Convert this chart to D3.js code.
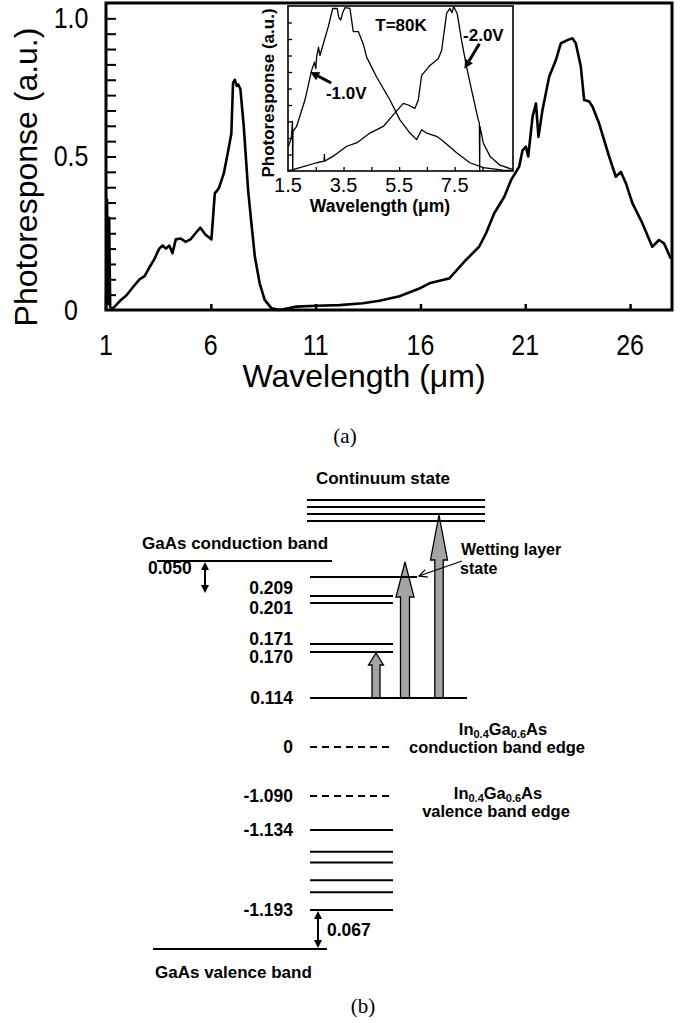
<!DOCTYPE html>
<html>
<head>
<meta charset="utf-8">
<script src="https://cdn.jsdelivr.net/npm/d3@7"></script>
<style>
  body { margin: 0; background: #fff; }
  svg { display: block; }
  text { font-family: 'Liberation Sans', Arial, sans-serif; fill: #000; }
  .bold { font-weight: bold; }
</style>
</head>
<body>
<svg id="fig" width="690" height="1023"></svg>
<script>
// (a) main spectrum: [wavelength um, photoresponse a.u.]
const mainSpectrum = [
  [1.0, 0.0], [1.05, 0.36], [1.1, 0.02], [1.15, 0.3], [1.2, 0.01], [1.33, 0.005],
  [1.67, 0.03], [1.98, 0.048], [2.29, 0.075], [2.6, 0.1], [2.84, 0.11], [3.08, 0.14],
  [3.3, 0.165], [3.54, 0.2], [3.7, 0.21], [3.86, 0.2], [4.02, 0.21], [4.17, 0.185],
  [4.33, 0.23], [4.56, 0.233], [4.8, 0.222], [5.03, 0.23], [5.27, 0.25], [5.5, 0.268],
  [5.75, 0.245], [6.03, 0.23], [6.19, 0.38], [6.38, 0.396], [6.62, 0.445], [6.86, 0.53],
  [6.98, 0.575], [7.06, 0.74], [7.14, 0.75], [7.24, 0.73], [7.3, 0.735], [7.41, 0.72],
  [7.57, 0.6], [7.78, 0.39], [7.94, 0.28], [8.1, 0.174], [8.33, 0.087], [8.57, 0.033],
  [8.89, 0.006], [9.29, 0.0], [10.08, 0.011], [11.03, 0.014], [12.14, 0.016], [13.25, 0.022],
  [14.05, 0.03], [15.0, 0.045], [15.95, 0.07], [16.43, 0.087], [17.06, 0.098], [17.38, 0.103],
  [18.17, 0.163], [18.8, 0.206], [19.13, 0.25], [19.52, 0.315], [20.0, 0.369], [20.32, 0.423],
  [20.71, 0.467], [20.87, 0.52], [21.03, 0.532], [21.14, 0.5], [21.35, 0.63], [21.51, 0.673],
  [21.63, 0.564], [21.82, 0.651], [22.14, 0.76], [22.46, 0.814], [22.7, 0.869], [23.01, 0.879],
  [23.25, 0.885], [23.41, 0.869], [23.65, 0.793], [23.81, 0.684], [24.05, 0.679], [24.21, 0.662],
  [24.52, 0.608], [25.0, 0.5], [25.32, 0.434], [25.56, 0.45], [25.8, 0.413], [26.11, 0.348],
  [26.59, 0.282], [27.06, 0.206], [27.38, 0.228], [27.62, 0.217], [27.94, 0.168]
];
const xTickValues = [1, 6, 11, 16, 21, 26];
const yTickValues = [0, 0.5, 1.0];
const yTickLabels = ['0', '0.5', '1.0'];

// inset spectra at T=80K
const insetMinus1V = [
  [1.51, 0.147], [1.62, 0.2], [1.66, 0.3], [1.67, 0.0], [1.68, 0.24], [1.81, 0.27],
  [2.11, 0.43], [2.35, 0.61], [2.45, 0.66], [2.5, 0.62], [2.53, 0.69], [2.6, 0.75],
  [2.65, 0.7], [2.77, 0.77], [2.95, 0.875], [3.11, 0.985], [3.27, 0.985], [3.33, 0.93],
  [3.4, 0.915], [3.47, 0.96], [3.55, 0.99], [3.73, 0.985], [3.85, 0.845], [4.03, 0.845],
  [4.21, 0.77], [4.33, 0.69], [4.69, 0.57], [5.17, 0.43], [5.53, 0.31], [5.89, 0.23],
  [6.13, 0.19], [6.31, 0.25], [6.49, 0.23], [6.85, 0.21], [7.09, 0.18], [7.57, 0.11],
  [8.05, 0.05], [8.53, 0.02], [9.23, 0.005], [9.6, 0.003]
];
const insetMinus2V = [
  [1.5, 0.0], [1.93, 0.02], [2.53, 0.05], [2.8, 0.06], [2.81, 0.1], [2.82, 0.06],
  [3.13, 0.09], [3.61, 0.15], [3.97, 0.17], [4.45, 0.23], [4.93, 0.27], [5.29, 0.34],
  [5.65, 0.41], [5.83, 0.4], [6.07, 0.38], [6.19, 0.43], [6.31, 0.58], [6.61, 0.64],
  [6.91, 0.68], [7.03, 0.73], [7.21, 0.955], [7.33, 0.985], [7.4, 0.96], [7.47, 0.995],
  [7.59, 0.955], [7.75, 0.79], [7.93, 0.63], [8.11, 0.49], [8.35, 0.31], [8.39, 0.29],
  [8.4, 0.0], [8.41, 0.27], [8.53, 0.17], [8.77, 0.09], [9.13, 0.035], [9.49, 0.015], [9.6, 0.01]
];
const insetTickValues = [1.5, 3.5, 5.5, 7.5];
const insetNotes = [
  { label: '-1.0V', wl: 2.3, pr: 0.6 },
  { label: '-2.0V', wl: 7.85, pr: 0.62 }
];

// (b) energy levels, eV
const continuumLevels = [0.32, 0.31, 0.30, 0.29];
const gaasCB = 0.264;
const wettingLevel = 0.214;
const confinedLevels = [0.209, 0.201, 0.171, 0.170, 0.114];
const confinedLabels = ['0.209', '0.201', '0.171', '0.170', '0.114'];
const edgeLevels = [0, -1.090];
const edgeLabels = ['0', '-1.090'];
const holeLevels = [-1.134, -1.150, -1.158, -1.171, -1.180, -1.193];
const holeLabels = ['-1.134', '', '', '', '', '-1.193'];
const gaasVB = -1.260;
const transitions = [[0.114, 0.170], [0.114, gaasCB], [0.114, 0.30]];

const svg = d3.select('#fig');

// ---------- (a) ----------
const box = { left: 106, right: 672, top: 3, bottom: 310 };

const x = d3.scaleLinear().domain([1, 28]).range([box.left, box.right]);
const y = d3.scaleLinear().domain([0, 1]).range([box.bottom, box.top]);

const xAxis = d3.axisBottom(x).tickValues(xTickValues.slice(1)).tickSize(-6).tickFormat('');
const yAxis = d3.axisLeft(y).tickValues(d3.range(1, 20).map(i => i * 0.05)).tickSize(-10).tickFormat('');

svg.append('g')
  .attr('transform', 'translate(0,' + box.bottom + ')')
  .call(xAxis)
  .call(g => g.select('.domain').remove())
  .selectAll('line').attr('stroke-width', 2.5);

svg.append('g')
  .attr('transform', 'translate(' + box.left + ',0)')
  .call(yAxis)
  .call(g => g.select('.domain').remove())
  .selectAll('line').attr('stroke-width', 2);

const line = d3.line().x(d => x(d[0])).y(d => y(d[1]));

svg.append('path')
  .datum(mainSpectrum)
  .attr('d', line)
  .attr('fill', 'none')
  .attr('stroke', '#000')
  .attr('stroke-width', 2.6)
  .attr('stroke-linejoin', 'round');

svg.append('rect')
  .attr('x', box.left).attr('y', box.top)
  .attr('width', box.right - box.left).attr('height', box.bottom - box.top)
  .attr('fill', 'none').attr('stroke', '#000').attr('stroke-width', 3);

svg.append('g').selectAll('text')
  .data(xTickValues)
  .join('text')
  .attr('transform', d => 'translate(' + x(d) + ',345) scale(1,1.15)')
  .attr('text-anchor', 'middle')
  .attr('dominant-baseline', 'central')
  .style('font-size', '25px')
  .text(d => d);

svg.append('g').selectAll('text')
  .data(yTickValues)
  .join('text')
  .attr('transform', d => 'translate(71,' + Math.max(y(d), box.top + 15) + ') scale(1,1.15)')
  .attr('text-anchor', 'middle')
  .attr('dominant-baseline', 'central')
  .style('font-size', '25px')
  .text((d, i) => yTickLabels[i]);

svg.append('text')
  .attr('x', 364).attr('y', 376)
  .attr('text-anchor', 'middle')
  .attr('dominant-baseline', 'central')
  .style('font-size', '32px')
  .text('Wavelength (\u03bcm)');

svg.append('text')
  .attr('transform', 'translate(37,' + 177 + ') rotate(-90)')
  .attr('text-anchor', 'middle')
  .style('font-size', '32px')
  .text('Photoresponse (a.u.)');

// inset
const inset = { left: 288, right: 513, top: 6, bottom: 171 };
const ix = d3.scaleLinear().domain([1.5, 9.6]).range([inset.left, inset.right]);
const iy = d3.scaleLinear().domain([0, 1]).range([inset.bottom, inset.top]);

svg.append('rect')
  .attr('x', inset.left).attr('y', inset.top)
  .attr('width', inset.right - inset.left).attr('height', inset.bottom - inset.top)
  .attr('fill', '#fff');

svg.append('g')
  .attr('transform', 'translate(0,' + inset.bottom + ')')
  .call(d3.axisBottom(ix).tickValues(d3.range(2.5, 9.5, 1)).tickSize(-4).tickFormat(''))
  .call(g => g.select('.domain').remove())
  .selectAll('line').attr('stroke-width', 1.3);

svg.append('g')
  .attr('transform', 'translate(' + inset.left + ',0)')
  .call(d3.axisLeft(iy).tickValues(d3.range(1, 10).map(i => i * 0.1)).tickSize(-4).tickFormat(''))
  .call(g => g.select('.domain').remove())
  .selectAll('line').attr('stroke-width', 1.3);

const iline = d3.line().x(d => ix(d[0])).y(d => iy(d[1]));

svg.append('g').selectAll('path')
  .data([insetMinus1V, insetMinus2V])
  .join('path')
  .attr('d', iline)
  .attr('fill', 'none')
  .attr('stroke', '#000')
  .attr('stroke-width', 1.3)
  .attr('stroke-linejoin', 'round');

svg.append('rect')
  .attr('x', inset.left).attr('y', inset.top)
  .attr('width', inset.right - inset.left).attr('height', inset.bottom - inset.top)
  .attr('fill', 'none').attr('stroke', '#000').attr('stroke-width', 1.6);

svg.append('g').selectAll('text')
  .data(insetTickValues)
  .join('text')
  .attr('x', d => ix(d)).attr('y', 185)
  .attr('text-anchor', 'middle')
  .attr('dominant-baseline', 'central')
  .style('font-size', '20px')
  .text(d => d);

svg.append('text')
  .attr('class', 'bold')
  .attr('x', 380).attr('y', 206)
  .attr('text-anchor', 'middle')
  .attr('dominant-baseline', 'central')
  .style('font-size', '17.5px')
  .text('Wavelength (\u03bcm)');

svg.append('text')
  .attr('class', 'bold')
  .attr('transform', 'translate(274,' + 93 + ') rotate(-90)')
  .attr('text-anchor', 'middle')
  .style('font-size', '17px')
  .text('Photoresponse (a.u.)');

svg.append('text')
  .attr('class', 'bold')
  .attr('x', 401).attr('y', 25)
  .attr('text-anchor', 'middle')
  .attr('dominant-baseline', 'central')
  .style('font-size', '17px')
  .text('T=80K');

const headPoints = (x1, y1, x2, y2, len, half) => {
  const a = Math.atan2(y2 - y1, x2 - x1);
  const bx = x2 - len * Math.cos(a);
  const by = y2 - len * Math.sin(a);
  return [[x2, y2],
    [bx + half * Math.sin(a), by - half * Math.cos(a)],
    [bx - half * Math.sin(a), by + half * Math.cos(a)]];
};

// tail offset and label centre relative to the tip
const noteLayout = [
  { tail: [21, 11], text: [36, 21] },
  { tail: [15, -25], text: [19, -33] }
];

insetNotes.forEach((n, i) => {
  const tx = ix(n.wl);
  const ty = iy(n.pr);
  const l = noteLayout[i];
  const x1 = tx + l.tail[0];
  const y1 = ty + l.tail[1];
  const hp = headPoints(x1, y1, tx, ty, 9, 4.5);
  svg.append('line')
    .attr('x1', x1).attr('y1', y1)
    .attr('x2', (hp[1][0] + hp[2][0]) / 2).attr('y2', (hp[1][1] + hp[2][1]) / 2)
    .attr('stroke', '#000').attr('stroke-width', 3);
  svg.append('polygon')
    .attr('points', hp.map(p => p.join(',')).join(' '))
    .attr('fill', '#000');
  svg.append('text')
    .attr('class', 'bold')
    .attr('x', tx + l.text[0]).attr('y', ty + l.text[1])
    .attr('text-anchor', 'middle')
    .attr('dominant-baseline', 'central')
    .style('font-size', '17px')
    .text(n.label);
});

svg.append('text')
  .attr('x', 345).attr('y', 436)
  .attr('text-anchor', 'middle')
  .attr('dominant-baseline', 'central')
  .style('font-family', "'Liberation Serif', 'Times New Roman', serif")
  .style('font-size', '21px')
  .text('(a)');

// ---------- (b) ----------
const E = d3.scaleLinear()
  .domain([0.32, 0.29, gaasCB, wettingLevel, 0.209, 0.201, 0.171, 0.170, 0.114, 0, -1.090, -1.134, -1.193, gaasVB])
  .range([500, 521, 561, 577, 596, 603, 644, 652, 698, 747, 796, 830, 910, 949]);

const lvlLeft = 310;
const lvlRight = 393;
const labelRight = 293;

const b = svg.append('g');

// gray transition arrows
const arrowX = [376, 405, 439];
const arrowHead = [12, 35, 45];
const arrowHalfHead = [7.5, 9, 8.5];
const arrowHalfShaft = [4, 4.5, 4.2];

b.selectAll('path.trans')
  .data(transitions)
  .join('path')
  .attr('class', 'trans')
  .attr('d', (d, i) => {
    const cx = arrowX[i];
    const y0 = E(d[0]);
    const y1 = E(d[1]) + 1;
    const hy = y1 + arrowHead[i];
    const s = arrowHalfShaft[i];
    const h = arrowHalfHead[i];
    return d3.line()([[cx - s, y0], [cx - s, hy], [cx - h, hy], [cx, y1], [cx + h, hy], [cx + s, hy], [cx + s, y0]]) + 'Z';
  })
  .attr('fill', '#a4a4a4')
  .attr('stroke', '#000')
  .attr('stroke-width', 1.3);

const hline = (sel, x1, x2, w) => sel
  .attr('x1', x1).attr('x2', x2)
  .attr('stroke', '#000').attr('stroke-width', w || 2);

b.selectAll('line.cont')
  .data(continuumLevels)
  .join('line').attr('class', 'cont')
  .attr('y1', d => E(d)).attr('y2', d => E(d))
  .call(hline, 307, 485, 2);

b.append('line').attr('y1', E(gaasCB)).attr('y2', E(gaasCB)).call(hline, 157, 332, 2);
b.append('line').attr('y1', E(wettingLevel)).attr('y2', E(wettingLevel)).call(hline, lvlLeft, 417, 2.2);

b.selectAll('line.conf')
  .data(confinedLevels)
  .join('line').attr('class', 'conf')
  .attr('y1', d => E(d)).attr('y2', d => E(d))
  .call(hline, lvlLeft, lvlRight, 2)
  .attr('x2', (d, i) => i === confinedLevels.length - 1 ? 467 : lvlRight);

b.selectAll('line.edge')
  .data(edgeLevels)
  .join('line').attr('class', 'edge')
  .attr('y1', d => E(d)).attr('y2', d => E(d))
  .call(hline, lvlLeft, 390, 2)
  .attr('stroke-dasharray', '7,5');

b.selectAll('line.hole')
  .data(holeLevels)
  .join('line').attr('class', 'hole')
  .attr('y1', d => E(d)).attr('y2', d => E(d))
  .call(hline, lvlLeft, lvlRight, 2);

b.append('line').attr('y1', E(gaasVB)).attr('y2', E(gaasVB)).call(hline, 153, 327, 2.2);

// labels
const confinedNudge = [-8, 5, -5, 5, 0];
const label = (sel, size) => sel
  .attr('class', 'bold')
  .attr('dominant-baseline', 'central')
  .style('font-size', (size || 17.5) + 'px');

b.selectAll('text.conf')
  .data(confinedLevels)
  .join('text').attr('class', 'conf')
  .call(label)
  .attr('x', labelRight).attr('y', (d, i) => E(d) + confinedNudge[i])
  .attr('text-anchor', 'end')
  .text((d, i) => confinedLabels[i]);

b.selectAll('text.edge')
  .data(edgeLevels)
  .join('text').attr('class', 'edge')
  .call(label)
  .attr('x', labelRight).attr('y', d => E(d))
  .attr('text-anchor', 'end')
  .text((d, i) => edgeLabels[i]);

b.selectAll('text.hole')
  .data(holeLevels)
  .join('text').attr('class', 'hole')
  .call(label)
  .attr('x', labelRight).attr('y', d => E(d))
  .attr('text-anchor', 'end')
  .text((d, i) => holeLabels[i]);

b.append('text').call(label, 17).attr('x', 383).attr('y', 478).attr('text-anchor', 'middle').text('Continuum state');
b.append('text').call(label, 17).attr('x', 142).attr('y', E(gaasCB) - 18).text('GaAs conduction band');
b.append('text').call(label).attr('x', 148).attr('y', E(gaasCB) + 7).text('0.050');
b.append('text').call(label, 16).attr('x', 461).attr('y', 549).text('Wetting layer');
b.append('text').call(label, 16).attr('x', 460).attr('y', 568).text('state');
b.append('text').call(label).attr('x', 327).attr('y', (E(-1.193) + E(gaasVB)) / 2).text('0.067');
b.append('text').call(label, 17).attr('x', 155).attr('y', E(gaasVB) + 23).text('GaAs valence band');

const alloy = (yy, cx) => {
  const t = b.append('text').call(label, 16.5)
    .attr('x', cx).attr('y', yy).attr('text-anchor', 'middle');
  [['In', false], ['0.4', true], ['Ga', false], ['0.6', true], ['As', false]].forEach(p => {
    t.append('tspan')
      .attr('dy', p[1] ? 5 : (p[0] === 'In' ? 0 : -5))
      .style('font-size', p[1] ? '11px' : '16.5px')
      .text(p[0]);
  });
};
alloy(729, 503);
b.append('text').call(label, 16.5).attr('x', 497).attr('y', E(0)).attr('text-anchor', 'middle').text('conduction band edge');
alloy(793, 498);
b.append('text').call(label, 16.5).attr('x', 496).attr('y', 811).attr('text-anchor', 'middle').text('valence band edge');

// double-headed arrows
const dbl = (xx, y1, y2) => {
  b.append('line').attr('x1', xx).attr('x2', xx).attr('y1', y1 + 6).attr('y2', y2 - 6)
    .attr('stroke', '#000').attr('stroke-width', 2);
  [headPoints(xx, y2, xx, y1, 8, 4), headPoints(xx, y1, xx, y2, 8, 4)].forEach(hp => {
    b.append('polygon').attr('points', hp.map(p => p.join(',')).join(' ')).attr('fill', '#000');
  });
};
dbl(205, E(gaasCB) + 1, 593);
dbl(318, E(-1.193) + 1, E(gaasVB) - 1);

// wetting layer pointer
const wp = headPoints(462, 561, 419, 576, 8, 4);
b.append('line').attr('x1', 462).attr('y1', 561).attr('x2', 419).attr('y2', 576)
  .attr('stroke', '#000').attr('stroke-width', 1.3);
b.append('polyline')
  .attr('points', [wp[1], wp[0], wp[2]].map(p => p.join(',')).join(' '))
  .attr('fill', 'none').attr('stroke', '#000').attr('stroke-width', 1.3);

svg.append('text')
  .attr('x', 363).attr('y', 1006)
  .attr('text-anchor', 'middle')
  .attr('dominant-baseline', 'central')
  .style('font-family', "'Liberation Serif', 'Times New Roman', serif")
  .style('font-size', '21px')
  .text('(b)');
</script>
</body>
</html>
